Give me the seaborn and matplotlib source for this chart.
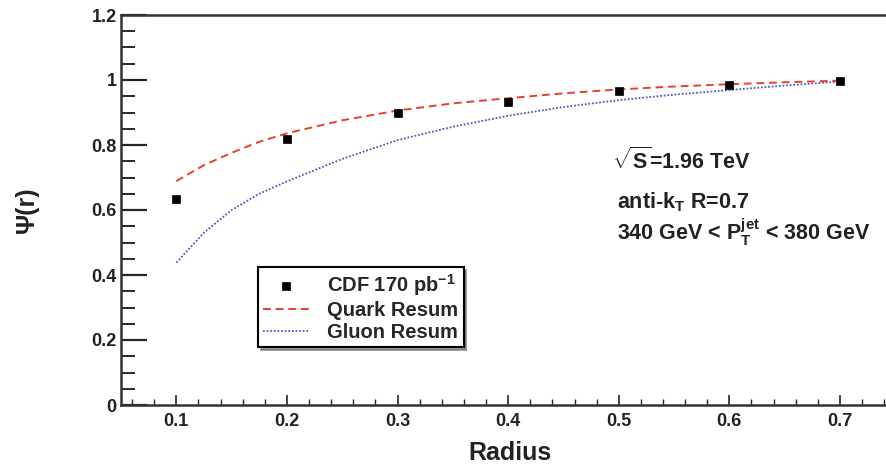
import numpy as np
import pandas as pd
import matplotlib
matplotlib.use("Agg")
import matplotlib.pyplot as plt
import seaborn as sns
from matplotlib.ticker import MultipleLocator

# Data
radius_pts = [0.1, 0.2, 0.3, 0.4, 0.5, 0.6, 0.7]
cdf_vals = [0.634, 0.820, 0.899, 0.933, 0.967, 0.985, 0.997]

radius_curve = [0.1, 0.125, 0.15, 0.175, 0.2, 0.25, 0.3, 0.35, 0.4, 0.45, 0.5, 0.55, 0.6, 0.65, 0.7]
quark_vals = [0.689, 0.738, 0.776, 0.810, 0.836, 0.876, 0.906, 0.928, 0.944, 0.959, 0.971, 0.980, 0.987, 0.993, 0.998]
gluon_vals = [0.438, 0.530, 0.600, 0.650, 0.688, 0.757, 0.815, 0.856, 0.890, 0.917, 0.938, 0.955, 0.969, 0.983, 0.995]

sns.set_style("ticks")
plt.rcParams["font.family"] = ["Liberation Sans", "DejaVu Sans"]
plt.rcParams["mathtext.fontset"] = "custom"
plt.rcParams["mathtext.rm"] = "Liberation Sans:bold"
plt.rcParams["mathtext.it"] = "Liberation Sans:bold"
plt.rcParams["mathtext.bf"] = "Liberation Sans:bold"

fig = plt.figure(figsize=(8.86, 4.66), dpi=100)
ax = fig.add_axes([121/886, 61/466, 1.0 - 121/886, 390/466])

df_curve = pd.DataFrame({"r": radius_curve, "quark": quark_vals, "gluon": gluon_vals})
df_pts = pd.DataFrame({"r": radius_pts, "cdf": cdf_vals})

sns.scatterplot(data=df_pts, x="r", y="cdf", ax=ax, marker="s", s=28, color="black",
                edgecolor="black", linewidth=0.5, label="CDF 170 pb$^{-1}$", zorder=5)
sns.lineplot(data=df_curve, x="r", y="quark", ax=ax, color="#e8402a", lw=1.4,
             linestyle=(0, (4, 2.5)), label="Quark Resum")
sns.lineplot(data=df_curve, x="r", y="gluon", ax=ax, color="#4a5cc0", lw=1.3,
             linestyle=(0, (1, 1)), label="Gluon Resum")

ax.set_xlim(0.05, 0.7416)
ax.set_ylim(0, 1.2)
ax.xaxis.set_major_locator(MultipleLocator(0.1))
ax.xaxis.set_minor_locator(MultipleLocator(0.02))
ax.yaxis.set_major_locator(MultipleLocator(0.2))
ax.yaxis.set_minor_locator(MultipleLocator(0.05))
ax.set_xticks([0.1, 0.2, 0.3, 0.4, 0.5, 0.6, 0.7])
ax.set_xticklabels(["0.1", "0.2", "0.3", "0.4", "0.5", "0.6", "0.7"])
ax.set_yticks([0, 0.2, 0.4, 0.6, 0.8, 1.0, 1.2])
ax.set_yticklabels(["0", "0.2", "0.4", "0.6", "0.8", "1", "1.2"])

ax.tick_params(axis="y", which="major", direction="in", length=19, width=1.6, labelsize=13, pad=3)
ax.tick_params(axis="y", which="minor", direction="in", length=10, width=1.4)
ax.tick_params(axis="x", which="major", direction="in", length=7, width=1.2, labelsize=13, pad=6)
ax.tick_params(axis="x", which="minor", direction="in", length=4, width=1.0)
for lab in ax.get_xticklabels() + ax.get_yticklabels():
    lab.set_fontweight("bold")
    lab.set_color("#222222")

for side in ["left", "bottom", "top"]:
    ax.spines[side].set_visible(True)
    ax.spines[side].set_linewidth(1.8)
    ax.spines[side].set_color("#333333")
ax.spines["right"].set_visible(False)

ax.set_xlabel("Radius", fontsize=18, fontweight="bold", color="#222222")
ax.xaxis.set_label_coords(0.508, -0.093)
ax.set_ylabel("Ψ(r)", fontsize=18, fontweight="bold", color="#222222")
ax.yaxis.set_label_coords(-0.108, 0.5)

leg = ax.legend(loc="upper left", bbox_to_anchor=(137/765, 138/390), frameon=True,
                fancybox=False, shadow=True, edgecolor="black",
                prop={"weight": "bold", "size": 14.5}, handlelength=2.3,
                borderpad=0.25, labelspacing=0.15, handletextpad=0.9, borderaxespad=0,
                markerscale=1.0)
leg.get_frame().set_linewidth(1.5)
for t in leg.get_texts():
    t.set_fontweight("bold")

ax.text(0.642, 0.605, r"$\sqrt{S}$=1.96 TeV", transform=ax.transAxes, fontsize=15.5,
        fontweight="bold", color="#222222")
ax.text(0.648, 0.503, r"anti-k$_T$ R=0.7", transform=ax.transAxes, fontsize=15.5,
        fontweight="bold", color="#222222")
ax.text(0.648, 0.422, r"340 GeV < P$_T^{jet}$ < 380 GeV", transform=ax.transAxes,
        fontsize=15.5, fontweight="bold", color="#222222")

fig.savefig("out.png", dpi=100)
